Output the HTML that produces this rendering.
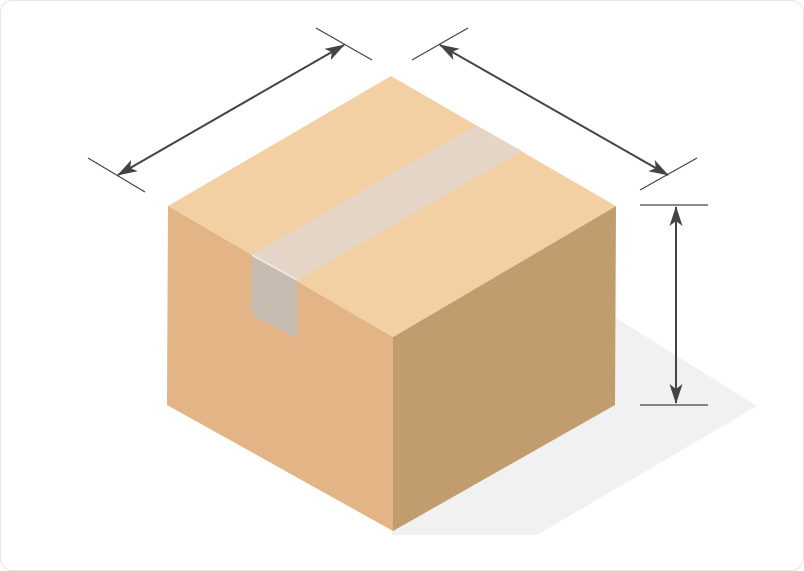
<!DOCTYPE html>
<html><head><style>html,body{margin:0;padding:0;background:#fff}svg{display:block}</style></head>
<body>
<svg width="804" height="571" viewBox="0 0 804 571" xmlns="http://www.w3.org/2000/svg">
<defs>
<marker id="a" viewBox="0 0 20 14" refX="19" refY="7" markerWidth="20" markerHeight="14" orient="auto-start-reverse" markerUnits="userSpaceOnUse">
<path d="M0,0.5 L20,7 L0,13.5 L5,7 z" fill="#444"/></marker>
</defs>
<rect x="0.5" y="0.5" width="803" height="570" rx="12" fill="#fff" stroke="#e6e6e6"/>
<polygon points="616,318 757,406 537,535 392,535 392,531" fill="#f1f1f1"/>
<polygon points="168,206 393,337 393,531 167,405" fill="#e2b486"/>
<polygon points="393,337 616,206 615,405 393,531" fill="#c19c6f"/>
<polygon points="391,76 616,206 393,337 168,206" fill="#f2d0a4"/>
<polygon points="476,125 522,151 297,280 252,255" fill="#e4d5c6"/>
<polygon points="252,255 297,280 297,338 252,315" fill="#c6bcb2"/>
<line x1="252" y1="255" x2="297" y2="280" stroke="#f3eee8" stroke-width="1.5"/>
<g stroke="#444" stroke-width="1.2">
<line x1="88" y1="158" x2="145" y2="192"/>
<line x1="316" y1="28" x2="372" y2="60"/>
<line x1="412" y1="60" x2="468" y2="28"/>
<line x1="640" y1="190" x2="697" y2="158"/>
<line x1="640" y1="205" x2="708" y2="205"/>
<line x1="640" y1="405" x2="708" y2="405"/>
</g>
<g stroke="#444" stroke-width="2" marker-start="url(#a)" marker-end="url(#a)">
<line x1="118" y1="175" x2="344" y2="45"/>
<line x1="440" y1="45" x2="668" y2="175"/>
<line x1="676" y1="207" x2="676" y2="403"/>
</g>
</svg>
</body></html>
